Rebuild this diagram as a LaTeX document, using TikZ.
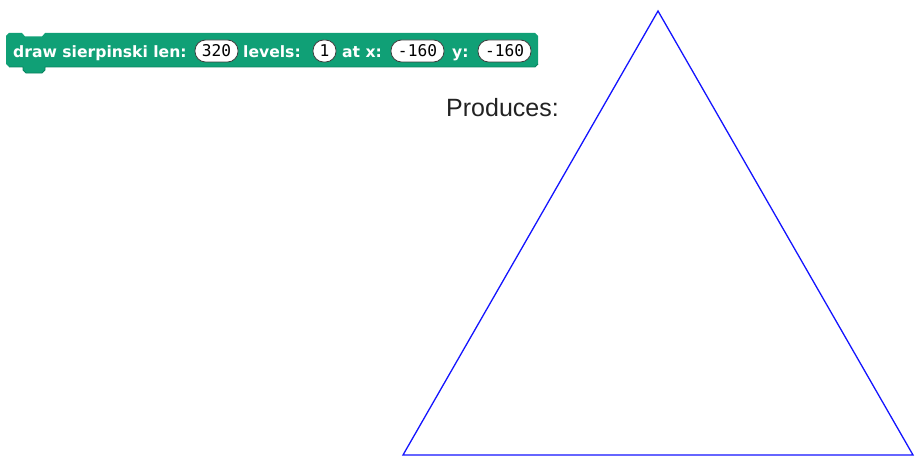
\documentclass[tikz,border=0pt]{standalone}
\usepackage{fontspec}
\setmainfont{Liberation Sans}
\newfontfamily\blockfont{DejaVu Sans}
\newfontfamily\inputfont{DejaVu Sans Mono}
\definecolor{penGreen}{RGB}{16,160,118}
\definecolor{penEdge}{RGB}{10,130,95}
\definecolor{turtleBlue}{RGB}{20,20,255}
\definecolor{labelGray}{RGB}{34,34,34}
\tikzset{
  blocklabel/.style={anchor=base west, inner sep=0pt, text=white, font=\blockfont\bfseries\fontsize{15.6}{17}\selectfont},
  inputslot/.style={draw=black!75, line width=0.8pt, fill=white, rounded corners=10.5pt, minimum height=22pt, inner sep=0pt, text=black, font=\inputfont\fontsize{16.2}{17}\selectfont},
  caption/.style={anchor=base west, inner sep=0pt, text=labelGray, font=\fontsize{25}{27}\selectfont},
  turtleline/.style={draw=turtleBlue, line width=1.3pt, line join=miter}
}
\begin{document}
\begin{tikzpicture}[x=1pt,y=-1pt]
\useasboundingbox (0,0) rectangle (915,460);
% command block
\fill[penGreen] (6,36) -- (9,33) -- (22,33) -- (25,36.5) -- (42,36.5) -- (45,33) -- (535,33) -- (538,36)
  -- (538,64) -- (535,67) -- (45,67) -- (45,70) -- (42,73) -- (26,73) -- (23,70) -- (23,67)
  -- (9,67) -- (6,64) -- cycle;
\draw[penEdge, line width=0.8pt] (9,67) -- (23,67) -- (23,70) -- (26,73) -- (42,73) -- (45,70) -- (45,67) -- (535,67) -- (538,64);
\node[blocklabel] (t1) at (13,57) {draw sierpinski len:};
\node[inputslot, minimum width=43pt] (len) at (216.5,51) {320};
\node[blocklabel] (t2) at (243,57) {levels:};
\node[inputslot, minimum width=23pt] (lev) at (324.5,51) {1};
\node[blocklabel] (t3) at (342,57) {at x:};
\node[inputslot, minimum width=53pt] (xin) at (417.5,51) {-160};
\node[blocklabel] (t4) at (452,57) {y:};
\node[inputslot, minimum width=53pt] (yin) at (504.5,51) {-160};
% caption
\node[caption] (prod) at (446,116) {Produces:};
% triangle
\coordinate (apex) at (658,11);
\coordinate (bl) at (403,455);
\coordinate (br) at (913,455);
\draw[turtleline] (apex) -- (br) -- (bl) -- cycle;
\end{tikzpicture}
\end{document}
